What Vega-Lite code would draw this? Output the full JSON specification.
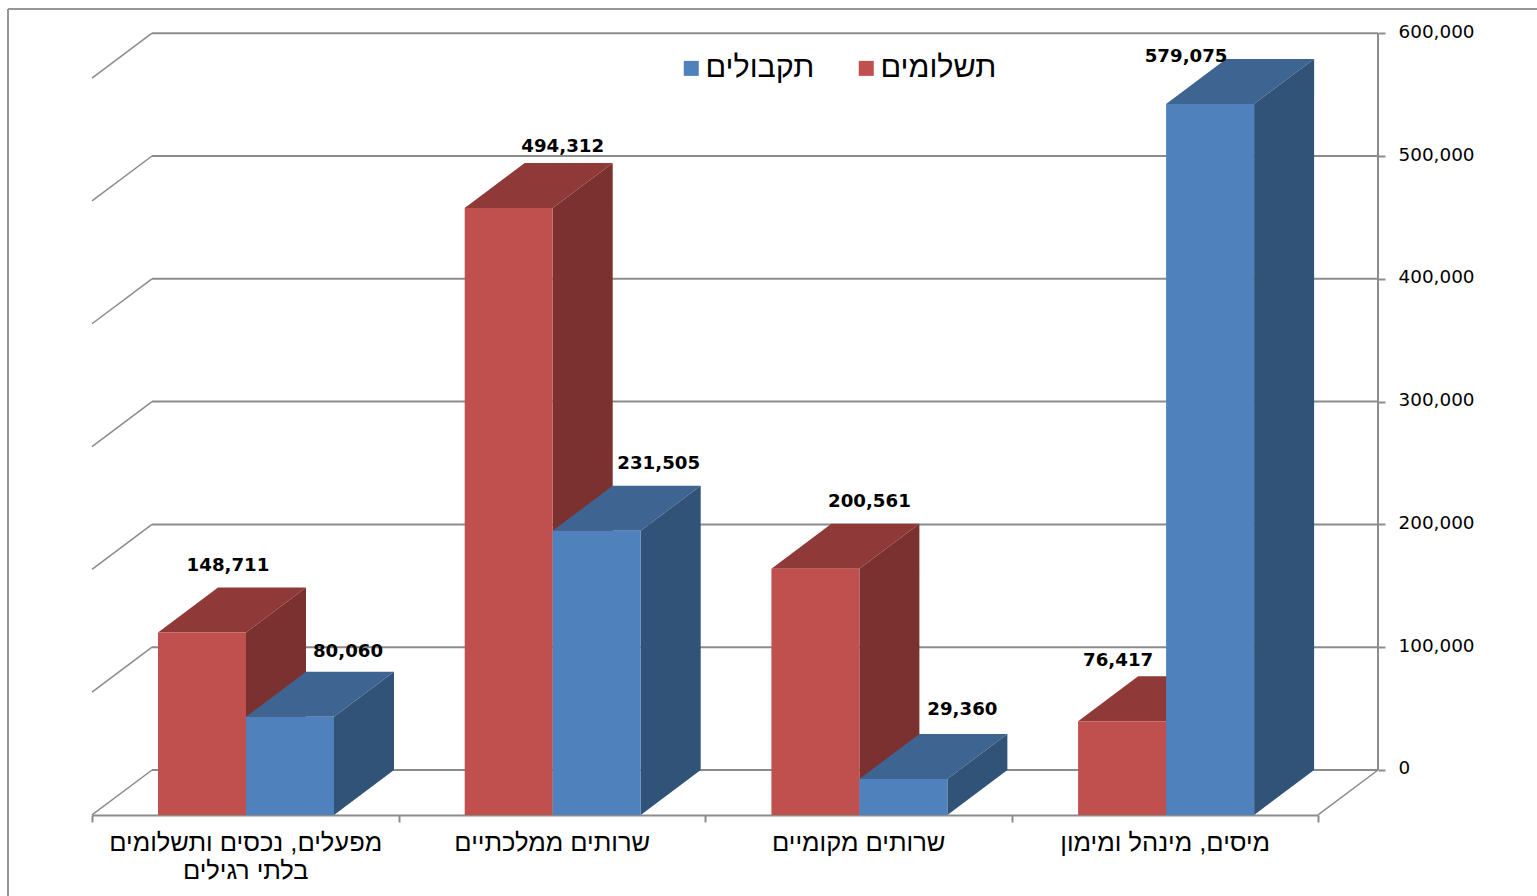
{
"$schema":"https://vega.github.io/schema/vega-lite/v6.json",
"width":1537,"height":896,"padding":0,"autosize":{"type":"none"},"background":"white",
"config":{"view":{"stroke":null},"font":"Liberation Sans"},
"resolve":{"scale":{"x":"independent","y":"independent"},"axis":{"x":"independent","y":"independent"}},
"layer":[
{"data":{"values":[{"level":0},{"level":100000},{"level":200000},{"level":300000},{"level":400000},{"level":500000},{"level":600000}]},
 "mark":{"type":"rule","color":"#8c8c8c","strokeWidth":2},
 "encoding":{"x":{"datum":152,"type":"quantitative","scale":{"domain":[0,1537],"range":[0,1537]},"axis":null},"x2":{"datum":1378},
  "y":{"field":"level","type":"quantitative","scale":{"domain":[-102606,627036],"range":[896,0],"nice":false,"zero":false},
   "axis":{"orient":"right","offset":-159,"title":null,"grid":false,"values":[0,100000,200000,300000,400000,500000,600000],"format":",.0f","domain":false,"tickColor":"#8c8c8c","tickSize":7,"tickWidth":2,"labelPadding":13,"labelFont":"DejaVu Sans","labelFontSize":18.4,"labelColor":"#000000","labelOffset":-2,"labelBound":false,"labelFlush":false,"labelOverlap":false}}}},
{"data":{"values":[{"level":0},{"level":100000},{"level":200000},{"level":300000},{"level":400000},{"level":500000},{"level":600000}]},
 "transform":[{"calculate":"datum.level-36600","as":"front"}],
 "layer":[
  {"transform":[{"filter":"datum.level==0"}],"mark":{"type":"rule","color":"#8c8c8c","strokeWidth":2},
   "encoding":{"x":{"datum":1378,"type":"quantitative","scale":{"domain":[0,1537],"range":[0,1537]},"axis":null},
    "y":{"datum":0,"type":"quantitative","scale":{"domain":[-102606,627036],"range":[896,0],"nice":false,"zero":false},"axis":null},"y2":{"datum":600000}}},
  {"mark":{"type":"rule","color":"#8c8c8c","strokeWidth":1.5},
   "encoding":{"x":{"datum":92,"type":"quantitative","scale":{"domain":[0,1537],"range":[0,1537]},"axis":null},"x2":{"datum":152},
    "y":{"field":"front","type":"quantitative","scale":{"domain":[-102606,627036],"range":[896,0],"nice":false,"zero":false},"axis":null},"y2":{"field":"level"}}},
  {"transform":[{"filter":"datum.level==0"}],"mark":{"type":"rule","color":"#8c8c8c","strokeWidth":1.5},
   "encoding":{"x":{"datum":1318,"type":"quantitative","scale":{"domain":[0,1537],"range":[0,1537]},"axis":null},"x2":{"datum":1378},
    "y":{"field":"front","type":"quantitative","scale":{"domain":[-102606,627036],"range":[896,0],"nice":false,"zero":false},"axis":null},"y2":{"field":"level"}}},
  {"transform":[{"filter":"datum.level==0"}],"mark":{"type":"rule","color":"#969696","strokeWidth":2},
   "encoding":{"x":{"datum":8,"type":"quantitative","scale":{"domain":[0,1537],"range":[0,1537]},"axis":null},"x2":{"datum":1537},
    "y":{"datum":619700,"type":"quantitative","scale":{"domain":[-102606,627036],"range":[896,0],"nice":false,"zero":false},"axis":null}}},
  {"transform":[{"filter":"datum.level==0"}],"mark":{"type":"rule","color":"#969696","strokeWidth":2},
   "encoding":{"x":{"datum":8,"type":"quantitative","scale":{"domain":[0,1537],"range":[0,1537]},"axis":null},
    "y":{"datum":619700,"type":"quantitative","scale":{"domain":[-102606,627036],"range":[896,0],"nice":false,"zero":false},"axis":null},"y2":{"datum":-102606}}}
 ]},
{"data":{"values":[{"category":"מפעלים, נכסים ותשלומים בלתי רגילים"},{"category":"שרותים ממלכתיים"},{"category":"שרותים מקומיים"},{"category":"מיסים, מינהל ומימון"}]},
 "mark":{"type":"point","opacity":0},
 "encoding":{
  "x":{"field":"category","type":"nominal","sort":null,"scale":{"type":"band","range":[92,1318],"paddingInner":0,"paddingOuter":0},
   "axis":{"orient":"bottom","offset":-81,"title":null,"labelAngle":0,"domainColor":"#8c8c8c","domainWidth":2,"tickColor":"#8c8c8c","tickWidth":2,"tickSize":7,"tickBand":"extent","labelFont":"Liberation Sans","labelFontSize":25.5,"labelColor":"#000000","labelPadding":8,"labelLineHeight":28,"labelLimit":0,"labelOverlap":false,"labelExpr":"length(datum.label)>25?['מפעלים, נכסים ותשלומים','בלתי רגילים']:datum.label"}},
  "y":{"datum":0,"type":"quantitative","axis":null}}},
{"data":{"values":[
 {"category":"מפעלים, נכסים ותשלומים בלתי רגילים","series":"תשלומים","value":148711},
 {"category":"מפעלים, נכסים ותשלומים בלתי רגילים","series":"תקבולים","value":80060},
 {"category":"שרותים ממלכתיים","series":"תשלומים","value":494312},
 {"category":"שרותים ממלכתיים","series":"תקבולים","value":231505},
 {"category":"שרותים מקומיים","series":"תשלומים","value":200561},
 {"category":"שרותים מקומיים","series":"תקבולים","value":29360},
 {"category":"מיסים, מינהל ומימון","series":"תשלומים","value":76417},
 {"category":"מיסים, מינהל ומימון","series":"תקבולים","value":579075}]},
 "transform":[
  {"calculate":"indexof(['מפעלים, נכסים ותשלומים בלתי רגילים','שרותים ממלכתיים','שרותים מקומיים','מיסים, מינהל ומימון'],datum.category)","as":"c"},
  {"calculate":"datum.series=='תקבולים'?1:0","as":"s"},
  {"calculate":"158+306.7*datum.c+88*datum.s","as":"xl"},
  {"calculate":"datum.xl+88","as":"xr"},
  {"calculate":"[0,1]","as":"t"},
  {"flatten":["t"]},
  {"calculate":"datum.value+36600*datum.t","as":"y1"},
  {"calculate":"36600*datum.t","as":"y0"},
  {"calculate":"datum.xl+60*datum.t","as":"xtl"},
  {"calculate":"datum.xr+60*datum.t","as":"xtr"},
  {"calculate":"2*datum.c+datum.s","as":"i"},
  {"calculate":"datum.xl+44+[26,58,54,62,54,59,-4,-24][datum.i]","as":"lx"},
  {"calculate":"datum.value+[53800,52950,49700,54570,54570,56200,48870,38290][datum.i]","as":"ly"}
 ],
 "layer":[
  {"transform":[{"filter":"datum.s==0"}],"mark":{"type":"area","orient":"horizontal","color":"#8f3a38"},
   "encoding":{"y":{"field":"y1","type":"quantitative","stack":null,"scale":{"domain":[-65961,663681],"range":[896,0],"nice":false,"zero":false},"axis":null},
    "x":{"field":"xtl","type":"quantitative","scale":{"domain":[0,1537],"range":[0,1537]},"axis":null},"x2":{"field":"xtr"},"detail":{"field":"category"}}},
  {"transform":[{"filter":"datum.s==0"}],"mark":{"type":"area","color":"#7b3130"},
   "encoding":{"x":{"field":"xtr","type":"quantitative","scale":{"domain":[0,1537],"range":[0,1537]},"axis":null},
    "y":{"field":"y1","type":"quantitative","stack":null,"scale":{"domain":[-65961,663681],"range":[896,0],"nice":false,"zero":false},"axis":null},"y2":{"field":"y0"},"detail":{"field":"category"}}},
  {"transform":[{"filter":"datum.s==0&&datum.t==0"}],"mark":{"type":"bar"},
   "encoding":{"x":{"field":"xl","type":"quantitative","scale":{"domain":[0,1537],"range":[0,1537]},"axis":null},"x2":{"field":"xr"},
    "y":{"field":"value","type":"quantitative","stack":null,"scale":{"domain":[-65961,663681],"range":[896,0],"nice":false,"zero":false},"axis":null},"y2":{"field":"y0"},
    "color":{"field":"series","type":"nominal","scale":{"domain":["תקבולים","תשלומים"],"range":["#4f81bd","#c0504d"]},
     "legend":{"orient":"none","legendX":676,"legendY":53,"direction":"horizontal","columns":2,"title":null,"symbolType":"square","symbolSize":225,"symbolStrokeWidth":0,"labelFont":"Liberation Sans","labelFontSize":30.5,"labelColor":"#000000","labelOffset":-1,"columnPadding":36,"labelLimit":0}}}},
  {"transform":[{"filter":"datum.s==1"}],"mark":{"type":"area","orient":"horizontal","color":"#3e6492"},
   "encoding":{"y":{"field":"y1","type":"quantitative","stack":null,"scale":{"domain":[-65961,663681],"range":[896,0],"nice":false,"zero":false},"axis":null},
    "x":{"field":"xtl","type":"quantitative","scale":{"domain":[0,1537],"range":[0,1537]},"axis":null},"x2":{"field":"xtr"},"detail":{"field":"category"}}},
  {"transform":[{"filter":"datum.s==1"}],"mark":{"type":"area","color":"#325378"},
   "encoding":{"x":{"field":"xtr","type":"quantitative","scale":{"domain":[0,1537],"range":[0,1537]},"axis":null},
    "y":{"field":"y1","type":"quantitative","stack":null,"scale":{"domain":[-65961,663681],"range":[896,0],"nice":false,"zero":false},"axis":null},"y2":{"field":"y0"},"detail":{"field":"category"}}},
  {"transform":[{"filter":"datum.s==1&&datum.t==0"}],"mark":{"type":"bar"},
   "encoding":{"x":{"field":"xl","type":"quantitative","scale":{"domain":[0,1537],"range":[0,1537]},"axis":null},"x2":{"field":"xr"},
    "y":{"field":"value","type":"quantitative","stack":null,"scale":{"domain":[-65961,663681],"range":[896,0],"nice":false,"zero":false},"axis":null},"y2":{"field":"y0"},
    "color":{"field":"series","type":"nominal","scale":{"domain":["תקבולים","תשלומים"],"range":["#4f81bd","#c0504d"]}}}},
  {"transform":[{"filter":"datum.t==0"}],"mark":{"type":"text","font":"DejaVu Sans","fontWeight":"bold","fontSize":18.2,"color":"#000000","baseline":"middle","align":"center"},
   "encoding":{"x":{"field":"lx","type":"quantitative","scale":{"domain":[0,1537],"range":[0,1537]},"axis":null},
    "y":{"field":"ly","type":"quantitative","scale":{"domain":[-65961,663681],"range":[896,0],"nice":false,"zero":false},"axis":null},
    "text":{"field":"value","type":"quantitative","format":","}}}
 ]}
]}
